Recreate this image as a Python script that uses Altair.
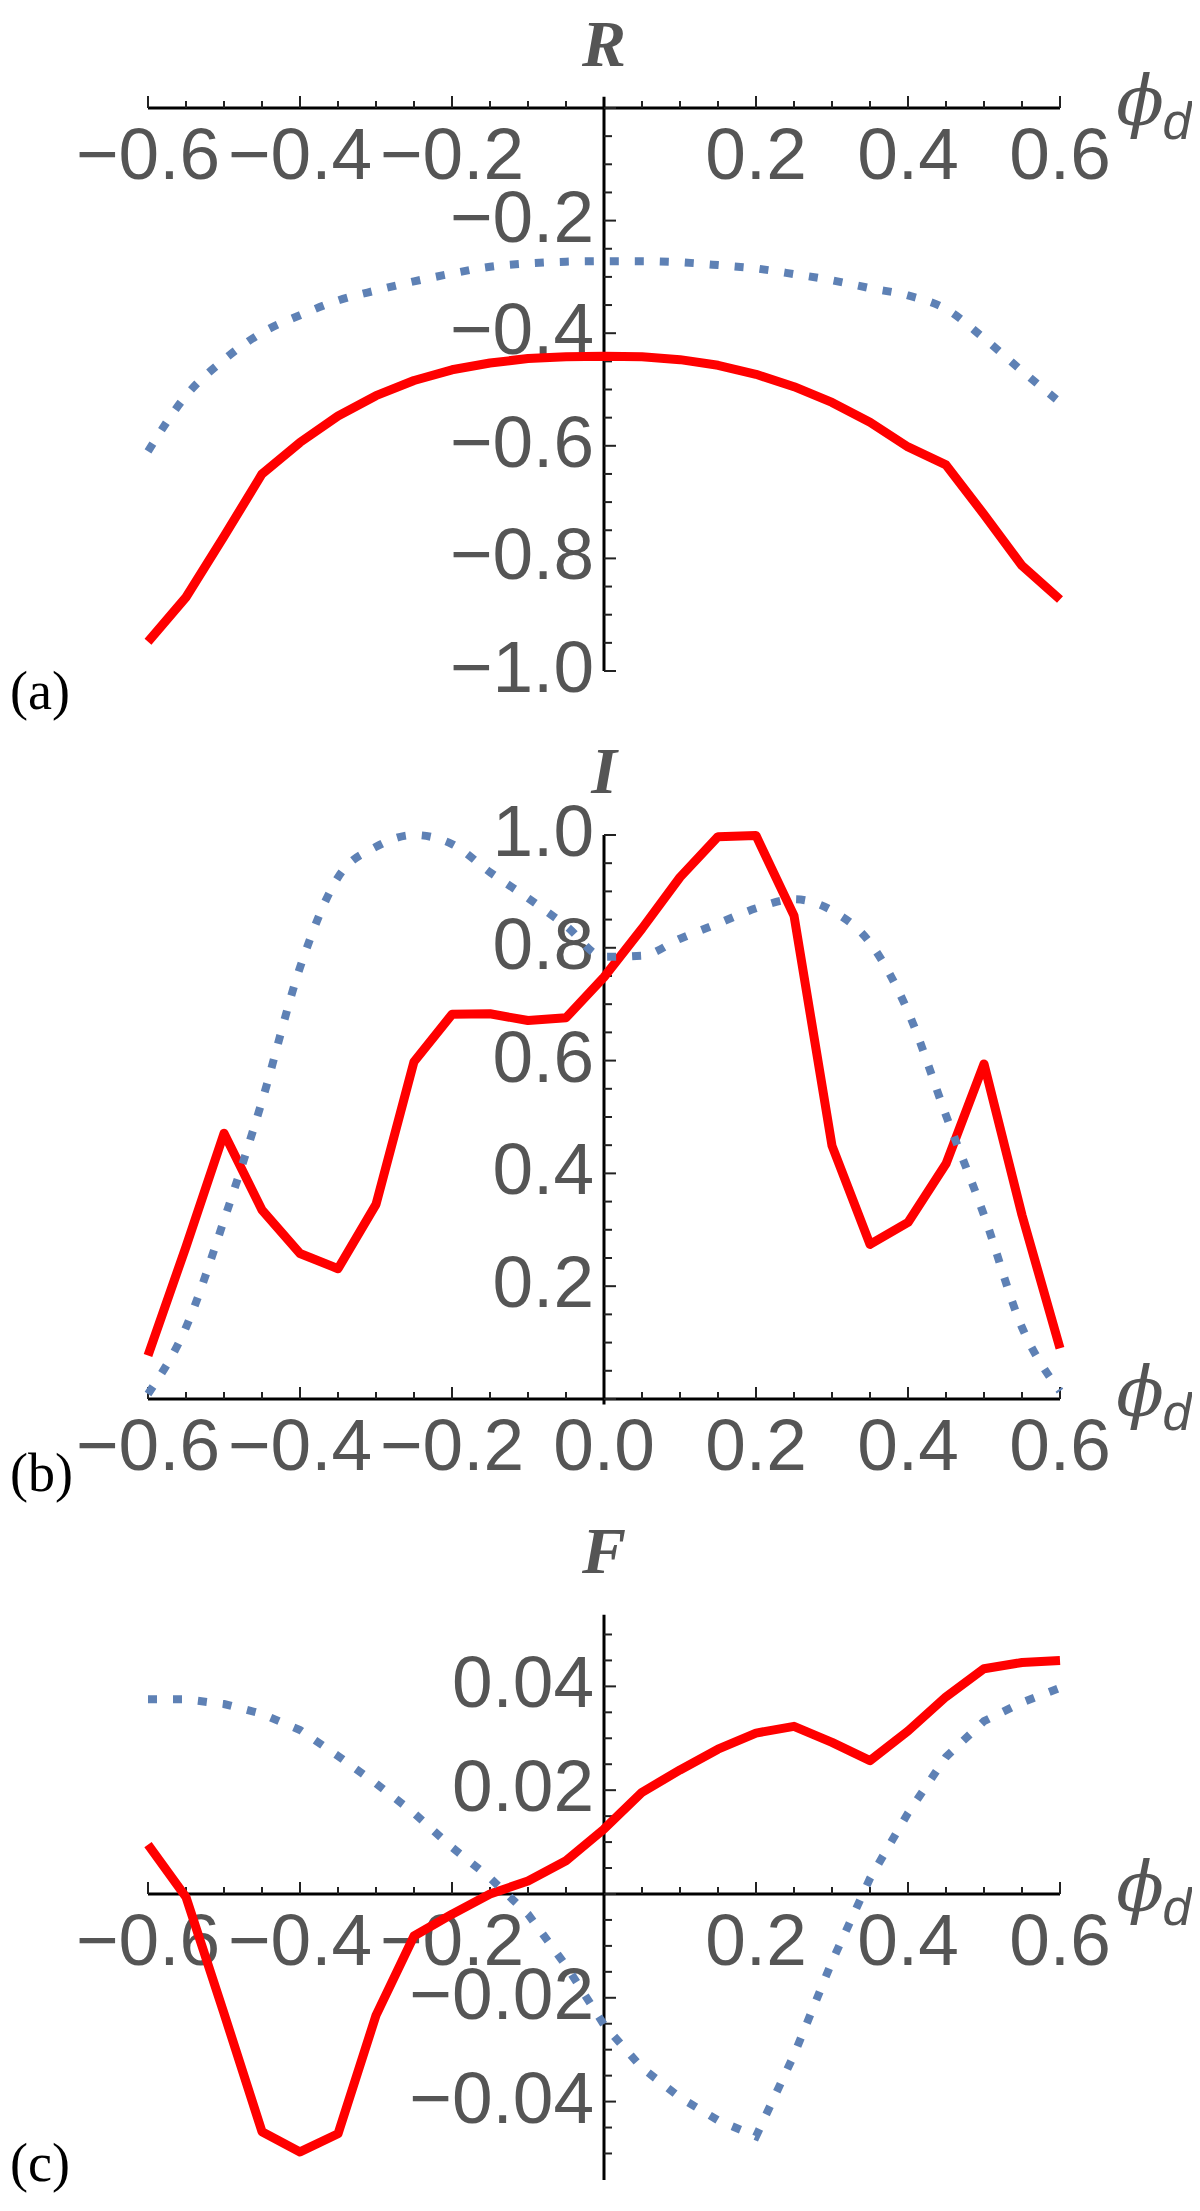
import altair as alt
import pandas as pd

# ---------------- data ----------------
phi_d = [-0.6, -0.55, -0.5, -0.45, -0.4, -0.35, -0.3, -0.25, -0.2, -0.15, -0.1, -0.05,
         0.0, 0.05, 0.1, 0.15, 0.2, 0.25, 0.3, 0.35, 0.4, 0.45, 0.5, 0.55, 0.6]

R_solid = [-0.948, -0.869, -0.761, -0.650, -0.594, -0.547, -0.511, -0.484, -0.465, -0.453,
           -0.445, -0.442, -0.441, -0.442, -0.447, -0.457, -0.473, -0.495, -0.523, -0.558,
           -0.602, -0.634, -0.722, -0.813, -0.873]
R_dotted = [-0.610, -0.511, -0.447, -0.399, -0.368, -0.342, -0.324, -0.308, -0.294, -0.282,
            -0.276, -0.273, -0.272, -0.272, -0.274, -0.279, -0.285, -0.295, -0.306, -0.320,
            -0.333, -0.357, -0.409, -0.467, -0.523]

I_solid = [0.077, 0.270, 0.471, 0.335, 0.258, 0.231, 0.345, 0.598, 0.682, 0.683,
           0.671, 0.676, 0.748, 0.834, 0.925, 0.997, 0.999, 0.857, 0.449, 0.274,
           0.313, 0.417, 0.594, 0.326, 0.090]
I_dotted = [0.009, 0.127, 0.317, 0.528, 0.765, 0.925, 0.979, 1.000, 0.984, 0.934,
            0.888, 0.839, 0.784, 0.786, 0.816, 0.843, 0.870, 0.886, 0.866, 0.809,
            0.687, 0.503, 0.326, 0.127, 0.014]

F_solid = [0.0095, -0.0006, -0.0230, -0.0458, -0.0497, -0.0462, -0.0234, -0.0081, -0.0039, 0.0000,
           0.0025, 0.0064, 0.0125, 0.0196, 0.0239, 0.0279, 0.0310, 0.0323, 0.0292, 0.0257,
           0.0314, 0.0380, 0.0434, 0.0446, 0.0450]
F_dotted = [0.0375, 0.0375, 0.0366, 0.0347, 0.0316, 0.0266, 0.0213, 0.0156, 0.0090, 0.0031,
            -0.0039, -0.0138, -0.0252, -0.0335, -0.0392, -0.0436, -0.0467, -0.0310, -0.0130, 0.0030,
            0.0156, 0.0264, 0.0333, 0.0369, 0.0397]

# tick values and labels
x_major = [-0.6, -0.4, -0.2, 0.2, 0.4, 0.6]
x_major_labels = ["\u22120.6", "\u22120.4", "\u22120.2", "0.2", "0.4", "0.6"]
x_major_b = [-0.6, -0.4, -0.2, 0.0, 0.2, 0.4, 0.6]
x_major_labels_b = ["\u22120.6", "\u22120.4", "\u22120.2", "0.0", "0.2", "0.4", "0.6"]
x_minor = [v for v in phi_d if abs(v / 0.2 - round(v / 0.2)) > 1e-6]

R_y_major = [0.0, -0.2, -0.4, -0.6, -0.8, -1.0]
R_y_labels = ["", "\u22120.2", "\u22120.4", "\u22120.6", "\u22120.8", "\u22121.0"]
R_y_minor = [round(-0.05 * k, 2) for k in range(1, 20) if k % 4 != 0]

I_y_major = [0.0, 0.2, 0.4, 0.6, 0.8, 1.0]
I_y_labels = ["", "0.2", "0.4", "0.6", "0.8", "1.0"]
I_y_minor = [round(0.05 * k, 2) for k in range(1, 20) if k % 4 != 0]

F_y_major = [0.04, 0.02, 0.0, -0.02, -0.04]
F_y_labels = ["0.04", "0.02", "", "\u22120.02", "\u22120.04"]
F_y_minor = [round(0.005 * k, 3) for k in range(-10, 11) if k % 4 != 0]

# ---------------- layout / style ----------------
PLOT_W = 912
PLOT_H = 2072
X_DOMAIN = [-0.6, 0.6]
A_DOMAIN = [-3.6803, 0.0]
B_DOMAIN = [-1.3848, 2.2890]
C_DOMAIN = [-0.05511, 0.34412]

RED = "#ff0000"
BLUE = "#5e81b5"
GRAY = "#555555"
TICK = "#222222"
SANS = "Liberation Sans, Arial, sans-serif"
SERIF = "Liberation Serif, Times New Roman, serif"

xs = alt.Scale(domain=X_DOMAIN, nice=False, zero=False)


def panel(ydom, solid, dotted, dotted_interp, xt_major, xt_labels, yt_major, yt_labels,
          yt_minor, y_line, title, title_y, tag, tag_y, tag_dy):
    ys = alt.Scale(domain=ydom, nice=False, zero=False)

    def X(f="x"):
        return alt.X(f, type="quantitative", scale=xs, axis=None)

    def Y(f="y"):
        return alt.Y(f, type="quantitative", scale=ys, axis=None)

    layers = []
    axis_df = pd.DataFrame({"x": [-0.6, 0.0], "x2": [0.6, 0.0],
                            "y": [0.0, y_line[0]], "y2": [0.0, y_line[1]]})
    layers.append(alt.Chart(axis_df).mark_rule(color="black", strokeWidth=3).encode(
        x=X(), x2="x2", y=Y(), y2="y2"))

    # x ticks (pointing up)
    layers.append(alt.Chart(pd.DataFrame({"x": x_major, "y": 0.0})).mark_rule(
        color=TICK, strokeWidth=2, y2Offset=-12).encode(x=X(), y=Y(), y2="y"))
    layers.append(alt.Chart(pd.DataFrame({"x": x_minor, "y": 0.0})).mark_rule(
        color=TICK, strokeWidth=2, y2Offset=-7).encode(x=X(), y=Y(), y2="y"))
    # y ticks (pointing right)
    layers.append(alt.Chart(pd.DataFrame({"y": yt_major, "x": 0.0})).mark_rule(
        color=TICK, strokeWidth=2, x2Offset=12).encode(x=X(), x2="x", y=Y()))
    layers.append(alt.Chart(pd.DataFrame({"y": yt_minor, "x": 0.0})).mark_rule(
        color=TICK, strokeWidth=2, x2Offset=8).encode(x=X(), x2="x", y=Y()))

    # tick labels
    layers.append(alt.Chart(pd.DataFrame({"x": xt_major, "y": 0.0, "label": xt_labels})).mark_text(
        font=SANS, fontSize=73, color=GRAY, align="center", baseline="alphabetic", dy=71
    ).encode(x=X(), y=Y(), text="label:N"))
    layers.append(alt.Chart(pd.DataFrame({"y": yt_major, "x": 0.0, "label": yt_labels})).mark_text(
        font=SANS, fontSize=73, color=GRAY, align="right", baseline="alphabetic", dx=-10, dy=21
    ).encode(x=X(), y=Y(), text="label:N"))

    # axis label phi_d
    layers.append(alt.Chart(pd.DataFrame({"x": [0.6], "y": [0.0], "t": ["\u03d5"]})).mark_text(
        font="DejaVu Serif, Liberation Serif, serif", fontStyle="italic", fontSize=70, color=GRAY,
        align="center", baseline="alphabetic", dx=80, dy=17
    ).encode(x=X(), y=Y(), text="t:N"))
    layers.append(alt.Chart(pd.DataFrame({"x": [0.6], "y": [0.0], "t": ["d"]})).mark_text(
        font=SANS, fontStyle="italic", fontSize=52, color=GRAY,
        align="center", baseline="alphabetic", dx=117, dy=31
    ).encode(x=X(), y=Y(), text="t:N"))

    # panel title (R, I, F)
    layers.append(alt.Chart(pd.DataFrame({"x": [0.0], "y": [title_y], "t": [title]})).mark_text(
        font=SERIF, fontStyle="italic", fontWeight="bold", fontSize=66, color=GRAY,
        align="center", baseline="alphabetic", dy=-42
    ).encode(x=X(), y=Y(), text="t:N"))

    # (a)/(b)/(c) tag
    layers.append(alt.Chart(pd.DataFrame({"x": [-0.6], "y": [tag_y], "t": [tag]})).mark_text(
        font=SERIF, fontSize=54, color="black", align="left", baseline="alphabetic",
        dx=-138, dy=tag_dy
    ).encode(x=X(), y=Y(), text="t:N"))

    # curves
    layers.append(alt.Chart(pd.DataFrame({"x": phi_d, "y": solid})).mark_line(
        color=RED, strokeWidth=9, strokeJoin="round").encode(x=X(), y=Y()))
    layers.append(alt.Chart(pd.DataFrame({"x": phi_d, "y": dotted})).mark_line(
        color=BLUE, strokeWidth=8, strokeDash=[9, 16], interpolate=dotted_interp
    ).encode(x=X(), y=Y()))

    return alt.layer(*layers)


pA = panel(A_DOMAIN, R_solid, R_dotted, "monotone", x_major, x_major_labels,
           R_y_major, R_y_labels, R_y_minor, (0.02, -1.0), "R", 0.0, "(a)", -1.0, 38)
pB = panel(B_DOMAIN, I_solid, I_dotted, "monotone", x_major_b, x_major_labels_b,
           I_y_major, I_y_labels, I_y_minor, (-0.01, 1.0), "I", 1.0, "(b)", 0.0, 92)
pC = panel(C_DOMAIN, F_solid, F_dotted, "linear", x_major, x_major_labels,
           F_y_major, F_y_labels, F_y_minor, (-0.0551, 0.0538), "F", 0.0538, "(c)", 0.0, 287)

chart = alt.layer(pA, pB, pC).resolve_scale(y="independent").properties(
    width=PLOT_W,
    height=PLOT_H,
    autosize=alt.AutoSizeParams(type="none"),
    padding={"left": 140, "top": 100, "right": 132, "bottom": 23},
    background="white",
).configure_view(strokeWidth=0)

chart.save("out.html", embed_options={"renderer": "svg", "actions": False})
